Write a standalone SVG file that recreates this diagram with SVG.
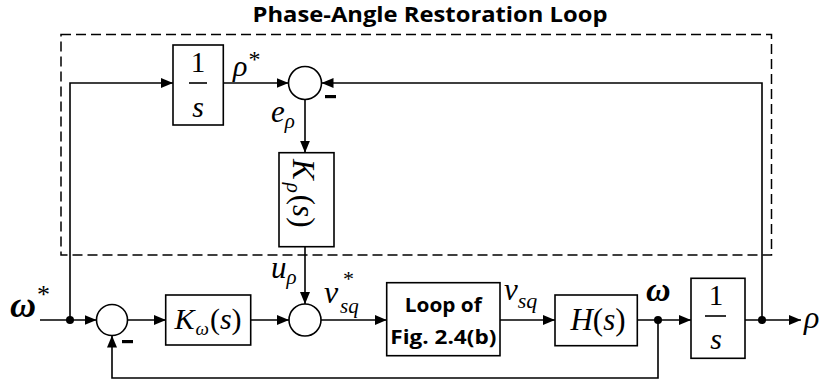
<svg xmlns="http://www.w3.org/2000/svg" width="825" height="385" viewBox="0 0 825 385">
<defs>
<marker id="arr" markerUnits="userSpaceOnUse" markerWidth="13" markerHeight="10" refX="12" refY="5" orient="auto">
<path d="M0,0 L12,5 L0,10 z" fill="#000"/>
</marker>
<style>
.box{fill:#fff;stroke:#000;stroke-width:1.6}
.sum{fill:#fff;stroke:#000;stroke-width:1.6}
.ln{fill:none;stroke:#000;stroke-width:1.6}
.ar{fill:none;stroke:#000;stroke-width:1.6;marker-end:url(#arr)}
.m{font-family:"Liberation Serif",serif;font-style:italic;fill:#000}
.n{font-family:"Liberation Serif",serif;fill:#000}
.b{font-family:"Open Sans","Liberation Sans",sans-serif;font-weight:bold;fill:#000}
.dot{fill:#000}
.minus{fill:#000}
</style>
</defs>
<rect width="825" height="385" fill="#fff"/>
<g id="title">
<text class="b" x="430" y="22" font-size="21" text-anchor="middle" textLength="355" lengthAdjust="spacingAndGlyphs">Phase-Angle Restoration Loop</text>
</g>
<g id="loop-region">
<rect x="61" y="34.5" width="710.5" height="220.5" fill="none" stroke="#000" stroke-width="1.5" stroke-dasharray="10 5"/>
</g>
<g id="connectors">
<line class="ar" x1="40" y1="320" x2="96.5" y2="320"/>
<polyline class="ar" points="70,320 70,83 173,83"/>
<line class="ar" x1="223" y1="83" x2="288.5" y2="83"/>
<polyline class="ar" points="762,320 762,83 321.5,83"/>
<line class="ar" x1="305" y1="99.5" x2="305" y2="152.7"/>
<line class="ar" x1="305" y1="246.7" x2="305" y2="304"/>
<line class="ar" x1="127.5" y1="320" x2="166" y2="320"/>
<line class="ar" x1="251" y1="320" x2="289" y2="320"/>
<line class="ar" x1="321" y1="320" x2="386.7" y2="320"/>
<line class="ar" x1="500" y1="320" x2="555" y2="320"/>
<line class="ar" x1="637.3" y1="320" x2="691" y2="320"/>
<line class="ar" x1="745" y1="320" x2="801" y2="320"/>
<polyline class="ar" points="658,320 658,378 112,378 112,335.5"/>
<circle class="dot" cx="70" cy="320" r="4"/>
<circle class="dot" cx="658" cy="320" r="4"/>
<circle class="dot" cx="762" cy="320" r="4"/>
</g>
<g id="int-top">
<rect class="box" x="173" y="45" width="50.3" height="80"/>
<text class="n" x="198" y="72" font-size="29" text-anchor="middle">1</text>
<line class="ln" x1="189" y1="83" x2="207" y2="83" stroke-width="1.2"/>
<text class="m" x="198" y="117" font-size="30" text-anchor="middle">s</text>
</g>
<g id="sum-top">
<circle class="sum" cx="305" cy="83" r="16.5"/>
<rect class="minus" x="325" y="95" width="11" height="3.2"/>
</g>
<g id="K-rho">
<rect class="box" x="279" y="152.7" width="55" height="94"/>
<text class="m" transform="translate(293,159) rotate(90)" font-size="31">K<tspan font-size="21" dx="3" dy="6">ρ</tspan><tspan class="n" font-style="normal" dx="2" dy="-6" font-size="31">(</tspan>s<tspan class="n" font-style="normal">)</tspan></text>
</g>
<g id="sum-left">
<circle class="sum" cx="112" cy="320" r="15.5"/>
<rect class="minus" x="122" y="340" width="11" height="3.2"/>
</g>
<g id="K-omega">
<rect class="box" x="165.7" y="295" width="85" height="50"/>
<text class="m" x="208" y="329" font-size="30" text-anchor="middle">K<tspan font-size="19" dx="1" dy="6">ω</tspan><tspan class="n" font-style="normal" dx="1" dy="-6">(</tspan>s<tspan class="n" font-style="normal">)</tspan></text>
</g>
<g id="sum-mid">
<circle class="sum" cx="305" cy="320" r="16"/>
</g>
<g id="loop-box">
<rect class="box" x="386.7" y="282.7" width="113.3" height="73"/>
<text class="b" x="443.3" y="312" font-size="20" text-anchor="middle" textLength="77" lengthAdjust="spacingAndGlyphs">Loop of</text>
<text class="b" x="443.3" y="344" font-size="20" text-anchor="middle" textLength="106" lengthAdjust="spacingAndGlyphs">Fig. 2.4(b)</text>
</g>
<g id="H">
<rect class="box" x="555" y="295" width="82.3" height="50.7"/>
<text class="m" x="598" y="330" font-size="31" text-anchor="middle">H<tspan class="n" font-style="normal">(</tspan>s<tspan class="n" font-style="normal">)</tspan></text>
</g>
<g id="int-bottom">
<rect class="box" x="691" y="278.3" width="54" height="80"/>
<text class="n" x="716" y="305" font-size="29" text-anchor="middle">1</text>
<line class="ln" x1="705" y1="316" x2="726" y2="316" stroke-width="1.2"/>
<text class="m" x="716" y="349" font-size="30" text-anchor="middle">s</text>
</g>
<g id="labels">
<text class="m" x="10" y="317" font-size="36" font-weight="bold">ω<tspan font-size="26" font-weight="normal" font-style="normal" dx="1" dy="-14">*</tspan></text>
<text class="m" x="233" y="76" font-size="30">ρ<tspan font-size="24" font-style="normal" dx="1" dy="-9">*</tspan></text>
<text class="m" x="271" y="122" font-size="31">e<tspan font-size="21" dy="6">ρ</tspan></text>
<text class="m" x="271" y="278" font-size="31">u<tspan font-size="21" dy="6">ρ</tspan></text>
<text class="m" x="324" y="303" font-size="32">v</text>
<text class="n" x="343" y="286" font-size="22">*</text>
<text class="m" x="340" y="313" font-size="21">sq</text>
<text class="m" x="504" y="300" font-size="31">v<tspan font-size="22" dy="8">sq</tspan></text>
<text class="m" x="646" y="301" font-size="34" font-weight="bold">ω</text>
<text class="m" x="804" y="328" font-size="32">ρ</text>
</g>
</svg>
